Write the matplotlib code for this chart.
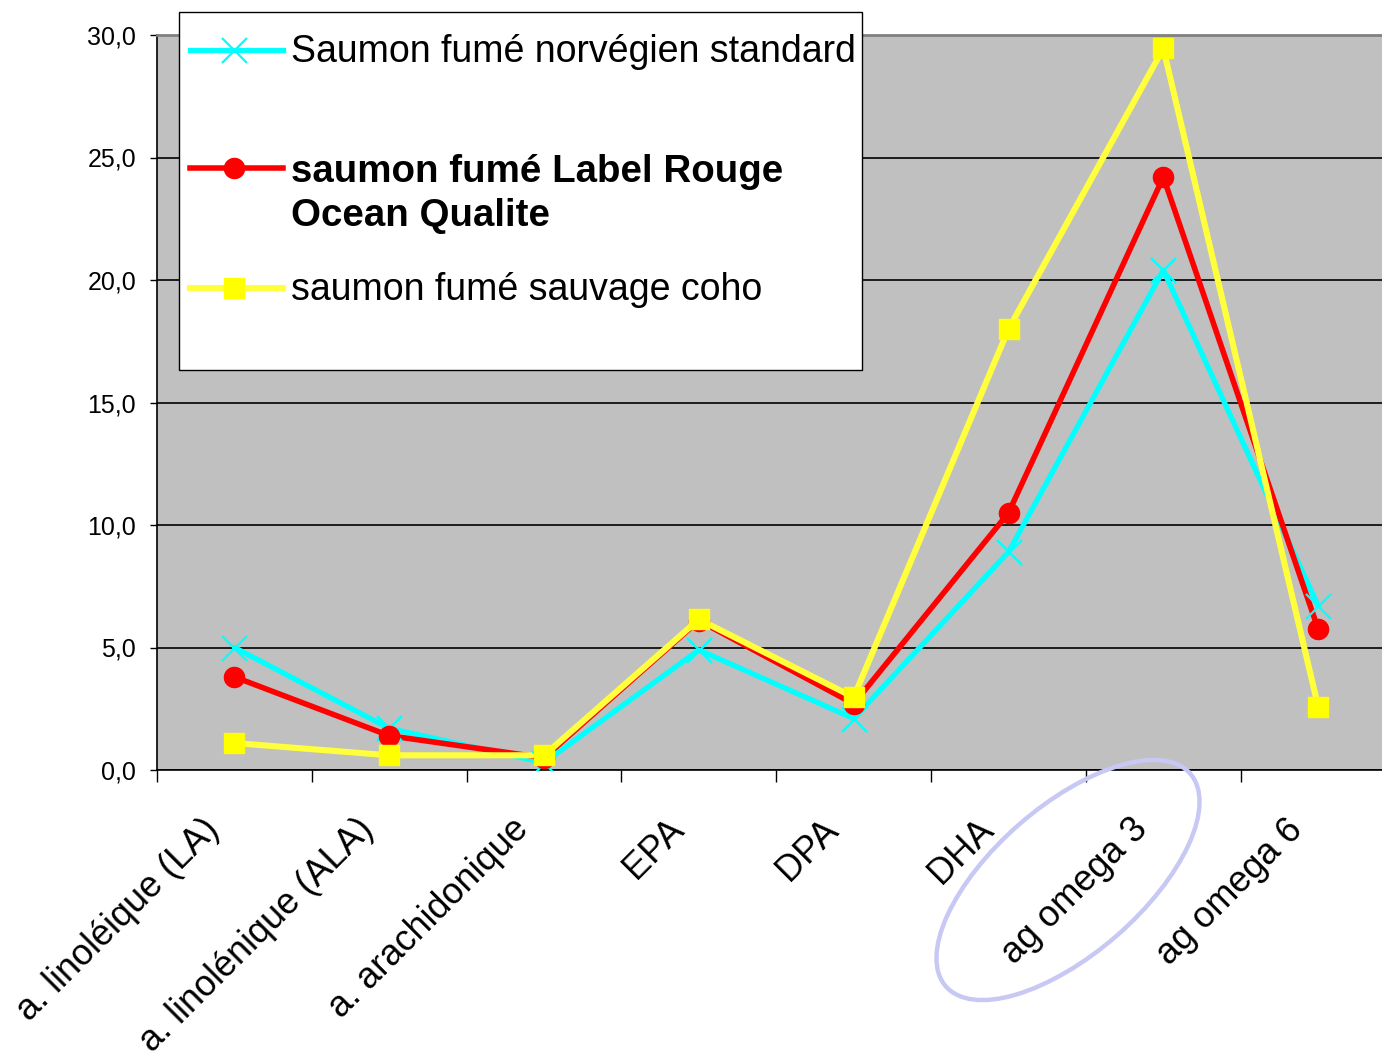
import matplotlib
matplotlib.use("Agg")
import matplotlib.pyplot as plt
from matplotlib.patches import Ellipse, Rectangle
from matplotlib.lines import Line2D
from matplotlib.transforms import ScaledTranslation

plt.rcParams['font.family'] = ['Liberation Sans', 'DejaVu Sans']

# ---------------- data ----------------
categories = ["a. linoléique (LA)", "a. linolénique (ALA)", "a. arachidonique",
              "EPA", "DPA", "DHA", "ag omega 3", "ag omega 6"]
norvegien = [5.0, 1.7, 0.3, 4.9, 2.1, 8.9, 20.4, 6.7]
label_rouge = [3.8, 1.4, 0.5, 6.1, 2.7, 10.5, 24.2, 5.75]
coho = [1.1, 0.6, 0.6, 6.15, 2.97, 18.0, 29.45, 2.58]
series_names = ["Saumon fumé norvégien standard",
                "saumon fumé Label Rouge",
                "Ocean Qualite",
                "saumon fumé sauvage coho"]
yticks = [0, 5, 10, 15, 20, 25, 30]
ytick_labels = ["0,0", "5,0", "10,0", "15,0", "20,0", "25,0", "30,0"]

# ---------------- figure ----------------
W, H = 1382, 1059
fig = plt.figure(figsize=(W / 100, H / 100), dpi=100)
ax = fig.add_axes([157 / W, (H - 770) / H, 1238.6 / W, 735 / H])
ax.set_facecolor('#C0C0C0')

xs = list(range(len(categories)))

cyan = '#00FFFF'
red = '#FF0000'
yel_line = '#FFFF3C'
yel = '#FFFF00'

# lines first
ax.plot(xs, norvegien, color=cyan, lw=3.8, zorder=3, solid_capstyle='round')
ax.plot(xs, label_rouge, color=red, lw=4.0, zorder=3, solid_capstyle='round')
ax.plot(xs, coho, color=yel_line, lw=4.4, zorder=3, solid_capstyle='round')
# markers on top
ax.plot(xs, norvegien, ls='none', marker='x', ms=18, mew=1.6, color=cyan, zorder=4)
ax.plot(xs, label_rouge, ls='none', marker='o', ms=14.5, color=red, zorder=4)
ax.plot(xs, coho, ls='none', marker='s', ms=14, color=yel, zorder=4)

ax.set_xlim(-0.5, len(categories) - 0.5)
ax.set_ylim(0, 30)
ax.set_yticks(yticks)
ax.set_yticklabels(ytick_labels, fontsize=18)
ax.yaxis.grid(True, color='black', lw=1.2, zorder=1)
ax.set_axisbelow(True)
ax.tick_params(axis='y', length=5, width=1, direction='out', pad=10, color='black')

ax.set_xticks(xs)
ax.set_xticklabels(categories, fontsize=26, rotation=45, ha='right', va='top',
                   rotation_mode='anchor')
ax.set_xticks([i - 0.5 for i in range(len(categories) + 1)], minor=True)
ax.tick_params(axis='x', which='major', length=0, pad=0)
ax.tick_params(axis='x', which='minor', length=8.6, width=1, direction='out', color='black')
off = ScaledTranslation(-0.33, -0.42, fig.dpi_scale_trans)
for lab in ax.get_xticklabels():
    lab.set_transform(lab.get_transform() + off)

for s in ['left', 'bottom']:
    ax.spines[s].set_color('black')
    ax.spines[s].set_linewidth(1.2)
ax.spines['top'].set_color('#808080')
ax.spines['top'].set_linewidth(2)
ax.spines['right'].set_visible(False)

# ---------------- overlay (legend + ellipse), pixel coords ----------------
ov = fig.add_axes([0, 0, 1, 1], zorder=10)
ov.set_xlim(0, W)
ov.set_ylim(H, 0)
ov.axis('off')
ov.patch.set_alpha(0)

ov.add_patch(Rectangle((179, 12), 683, 358, facecolor='white', edgecolor='black', lw=1.0))

# legend handles
ov.add_line(Line2D([190, 283], [50, 50], color=cyan, lw=3.8))
ov.add_line(Line2D([234], [50], marker='x', ms=18, mew=1.6, color=cyan))
ov.add_line(Line2D([190, 283], [168, 168], color=red, lw=4.0))
ov.add_line(Line2D([234], [168], marker='o', ms=14.5, color=red))
ov.add_line(Line2D([190, 283], [288, 288], color=yel_line, lw=4.4))
ov.add_line(Line2D([234], [288], marker='s', ms=14, color=yel))

ov.text(291, 52, series_names[0], fontsize=27, va='center', ha='left')
ov.text(291, 172, series_names[1], fontsize=27.7, va='center', ha='left', fontweight='bold')
ov.text(291, 216, series_names[2], fontsize=27.7, va='center', ha='left', fontweight='bold')
ov.text(291, 290, series_names[3], fontsize=27, va='center', ha='left')

# highlight ellipse around "ag omega 3"
ov.add_patch(Ellipse((1068, 880), 324, 148, angle=-41, fill=False,
                     edgecolor='#C8C8F5', lw=3.2))

fig.savefig('out.png', dpi=100)
